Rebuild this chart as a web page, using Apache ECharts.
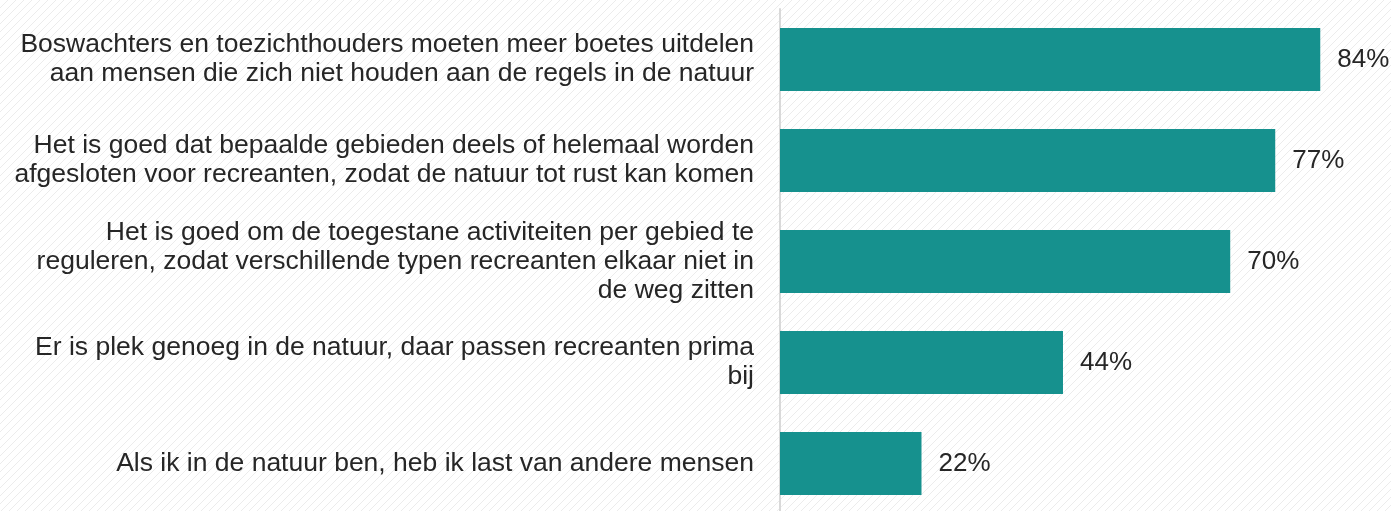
<!doctype html>
<html lang="nl">
<head>
<meta charset="UTF-8">
<style>
  html, body { margin: 0; padding: 0; background: #fff; }
  #main { width: 1391px; height: 511px; }
</style>
</head>
<body>
<div id="main"></div>
<script src="https://cdn.jsdelivr.net/npm/echarts@6/dist/echarts.min.js"></script>
<script>
var categories = [
  'Boswachters en toezichthouders moeten meer boetes uitdelen\naan mensen die zich niet houden aan de regels in de natuur',
  'Het is goed dat bepaalde gebieden deels of helemaal worden\nafgesloten voor recreanten, zodat de natuur tot rust kan komen',
  'Het is goed om de toegestane activiteiten per gebied te\nreguleren, zodat verschillende typen recreanten elkaar niet in\nde weg zitten',
  'Er is plek genoeg in de natuur, daar passen recreanten prima\nbij',
  'Als ik in de natuur ben, heb ik last van andere mensen'
];
var values = [84, 77, 70, 44, 22];

// faint diagonal hatch for the background
function hatch() {
  var c = document.createElement('canvas');
  c.width = 8; c.height = 8;
  var g = c.getContext('2d');
  g.fillStyle = '#ffffff';
  g.fillRect(0, 0, 8, 8);
  g.strokeStyle = '#ececec';
  g.lineWidth = 1;
  g.beginPath();
  g.moveTo(0, 8); g.lineTo(8, 0);
  g.moveTo(-4, 4); g.lineTo(4, -4);
  g.moveTo(4, 12); g.lineTo(12, 4);
  g.stroke();
  return c;
}

var myChart = echarts.init(document.getElementById('main'));
var option = {
  backgroundColor: { image: hatch(), repeat: 'repeat' },
  animation: false,
  grid: { left: 780, top: 9, width: 611, height: 505, outerBoundsMode: 'none', containLabel: false },
  xAxis: {
    type: 'value',
    min: 0,
    max: 95,
    show: false
  },
  yAxis: {
    type: 'category',
    inverse: true,
    data: categories,
    axisLine: { show: true, lineStyle: { color: '#d9d9d9', width: 2 } },
    axisTick: { show: false },
    axisLabel: {
      margin: 26,
      align: 'right',
      fontFamily: 'Liberation Sans, Arial, sans-serif',
      fontSize: 26.5,
      lineHeight: 29,
      color: '#262626'
    }
  },
  series: [{
    type: 'bar',
    data: values,
    barWidth: 63,
    itemStyle: { color: '#16918e' },
    label: {
      show: true,
      position: 'right',
      distance: 17,
      formatter: '{c}%',
      fontFamily: 'Liberation Sans, Arial, sans-serif',
      fontSize: 26,
      color: '#262626'
    }
  }]
};
myChart.setOption(option);
</script>
</body>
</html>
